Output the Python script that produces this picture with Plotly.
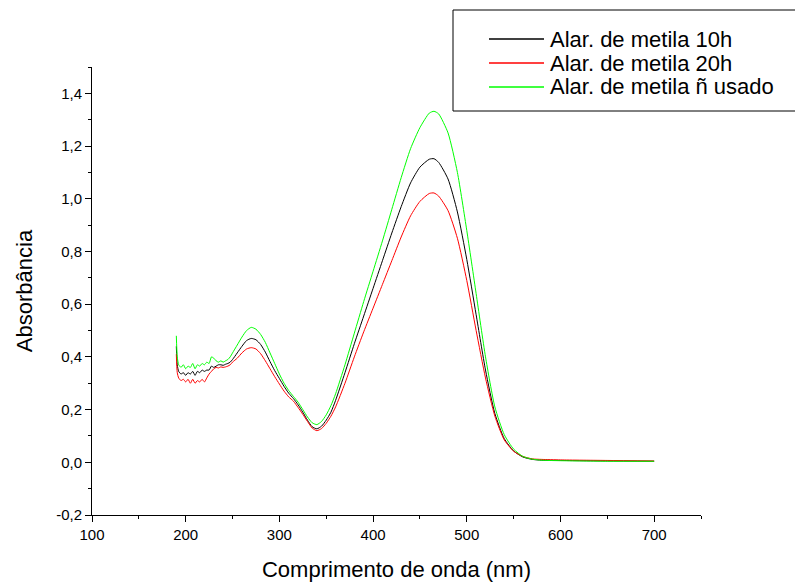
import plotly.graph_objects as go

wavelength = [190, 191, 192.5, 195, 197.5, 200, 202.5, 205, 207.5, 210, 212.5, 215, 217.5, 220,
              222.5, 225, 227.5, 230, 232.5, 235, 237.5, 240, 242.5, 245, 247.5, 250,
              255, 260, 265, 270, 275, 280, 285, 290, 295, 300, 305, 310, 315, 320, 325, 330,
              335, 340, 345, 350, 355, 360, 370, 380, 390, 400, 410, 420, 430, 440, 450, 460,
              465, 470, 480, 490, 500, 510, 520, 530, 540, 550, 560, 570, 580, 600, 650, 700]

abs_10h = [0.44, 0.37, 0.345, 0.335, 0.34, 0.33, 0.34, 0.335, 0.345, 0.33, 0.345, 0.34, 0.35, 0.345,
           0.35, 0.35, 0.365, 0.36, 0.365, 0.37, 0.37, 0.368, 0.372, 0.375, 0.38, 0.39,
           0.415, 0.44, 0.462, 0.47, 0.465, 0.447, 0.418, 0.382, 0.348, 0.318, 0.288, 0.262, 0.242,
           0.218, 0.19, 0.16, 0.135, 0.127, 0.137, 0.16, 0.19, 0.235, 0.34, 0.45, 0.555, 0.66,
           0.765, 0.87, 0.97, 1.06, 1.12, 1.15, 1.152, 1.138, 1.075, 0.95, 0.77, 0.56, 0.35,
           0.185, 0.09, 0.043, 0.02, 0.011, 0.008, 0.007, 0.005, 0.004]

abs_20h = [0.41, 0.34, 0.32, 0.31, 0.315, 0.305, 0.315, 0.30, 0.315, 0.30, 0.31, 0.305, 0.315, 0.305,
           0.32, 0.335, 0.345, 0.355, 0.36, 0.358, 0.362, 0.36, 0.362, 0.365, 0.37, 0.38,
           0.395, 0.415, 0.43, 0.435, 0.43, 0.412, 0.385, 0.355, 0.325, 0.297, 0.27, 0.248, 0.232,
           0.208, 0.182, 0.155, 0.13, 0.12, 0.128, 0.148, 0.175, 0.21, 0.30, 0.40, 0.495, 0.585,
           0.675, 0.765, 0.855, 0.935, 0.99, 1.02, 1.022, 1.01, 0.955, 0.85, 0.69, 0.50, 0.32,
           0.175, 0.085, 0.042, 0.022, 0.013, 0.011, 0.009, 0.007, 0.005]

abs_nao_usado = [0.48, 0.40, 0.37, 0.36, 0.37, 0.355, 0.365, 0.36, 0.375, 0.355, 0.37, 0.365, 0.375, 0.37,
                 0.38, 0.375, 0.40, 0.395, 0.385, 0.38, 0.385, 0.38, 0.385, 0.39, 0.40, 0.415,
                 0.445, 0.475, 0.50, 0.512, 0.505, 0.485, 0.455, 0.415, 0.375, 0.335, 0.30, 0.272, 0.25,
                 0.228, 0.20, 0.172, 0.15, 0.143, 0.155, 0.18, 0.215, 0.26, 0.37, 0.49, 0.61, 0.725,
                 0.84, 0.96, 1.08, 1.19, 1.27, 1.325, 1.332, 1.322, 1.25, 1.10, 0.88, 0.64, 0.40,
                 0.21, 0.105, 0.05, 0.022, 0.012, 0.008, 0.006, 0.004, 0.004]

series_names = ["Alar. de metila 10h", "Alar. de metila 20h", "Alar. de metila ñ usado"]
series_colors = ["#000000", "#ff0000", "#00ff00"]

x_tickvals = [100, 200, 300, 400, 500, 600, 700]
y_tickvals = [-0.2, 0.0, 0.2, 0.4, 0.6, 0.8, 1.0, 1.2, 1.4]
y_ticktext = ["-0,2", "0,0", "0,2", "0,4", "0,6", "0,8", "1,0", "1,2", "1,4"]

FONT = "Arial, 'Liberation Sans', sans-serif"

# plot-area geometry in pixels (used only to place the hand-built legend box)
PL, PR, PT, PB = 92, 701, 67, 515
def px_x(p):
    return (p - PL) / (PR - PL)
def px_y(p):
    return (PB - p) / (PB - PT)

fig = go.Figure()
for name, ys, color in zip(series_names, [abs_10h, abs_20h, abs_nao_usado], series_colors):
    fig.add_trace(go.Scatter(x=wavelength, y=ys, mode="lines", name=name,
                             line=dict(color=color, width=1, shape="spline", smoothing=0.6)))

# legend: box, sample lines and labels
shapes = [dict(type="rect", xref="paper", yref="paper",
               x0=px_x(453), x1=px_x(800), y0=px_y(111), y1=px_y(10),
               line=dict(color="black", width=1), fillcolor="white", layer="above")]
annotations = []
row_y = [39, 63, 87]
for name, color, ry in zip(series_names, series_colors, row_y):
    shapes.append(dict(type="line", xref="paper", yref="paper",
                       x0=px_x(489), x1=px_x(544), y0=px_y(ry), y1=px_y(ry),
                       line=dict(color=color, width=1.5), layer="above"))
    annotations.append(dict(text=name, xref="paper", yref="paper", x=px_x(548), y=px_y(ry),
                            xanchor="left", yanchor="middle", showarrow=False,
                            font=dict(family=FONT, size=22, color="black")))

axis_common = dict(showline=True, linecolor="black", linewidth=1, showgrid=False, zeroline=False,
                   ticks="outside", ticklen=6, tickwidth=1, tickcolor="black",
                   tickfont=dict(family=FONT, size=15, color="black"))

fig.update_layout(
    width=795, height=585,
    margin=dict(l=PL, r=795 - PR, t=PT, b=585 - PB, autoexpand=False),
    paper_bgcolor="white", plot_bgcolor="white",
    font=dict(family=FONT, color="black"),
    xaxis=dict(range=[100, 750], tickvals=x_tickvals,
               minor=dict(dtick=50, tick0=100, ticks="outside", ticklen=3, tickcolor="black"),
               title=dict(text="Comprimento de onda (nm)", font=dict(family=FONT, size=22), standoff=19),
               **axis_common),
    yaxis=dict(range=[-0.2, 1.5], tickvals=y_tickvals, ticktext=y_ticktext,
               minor=dict(dtick=0.1, tick0=-0.2, ticks="outside", ticklen=3, tickcolor="black"),
               title=dict(text="Absorbância", font=dict(family=FONT, size=22), standoff=17),
               **axis_common),
    shapes=shapes,
    annotations=annotations,
    showlegend=False,
)

fig.write_html("out.html")
